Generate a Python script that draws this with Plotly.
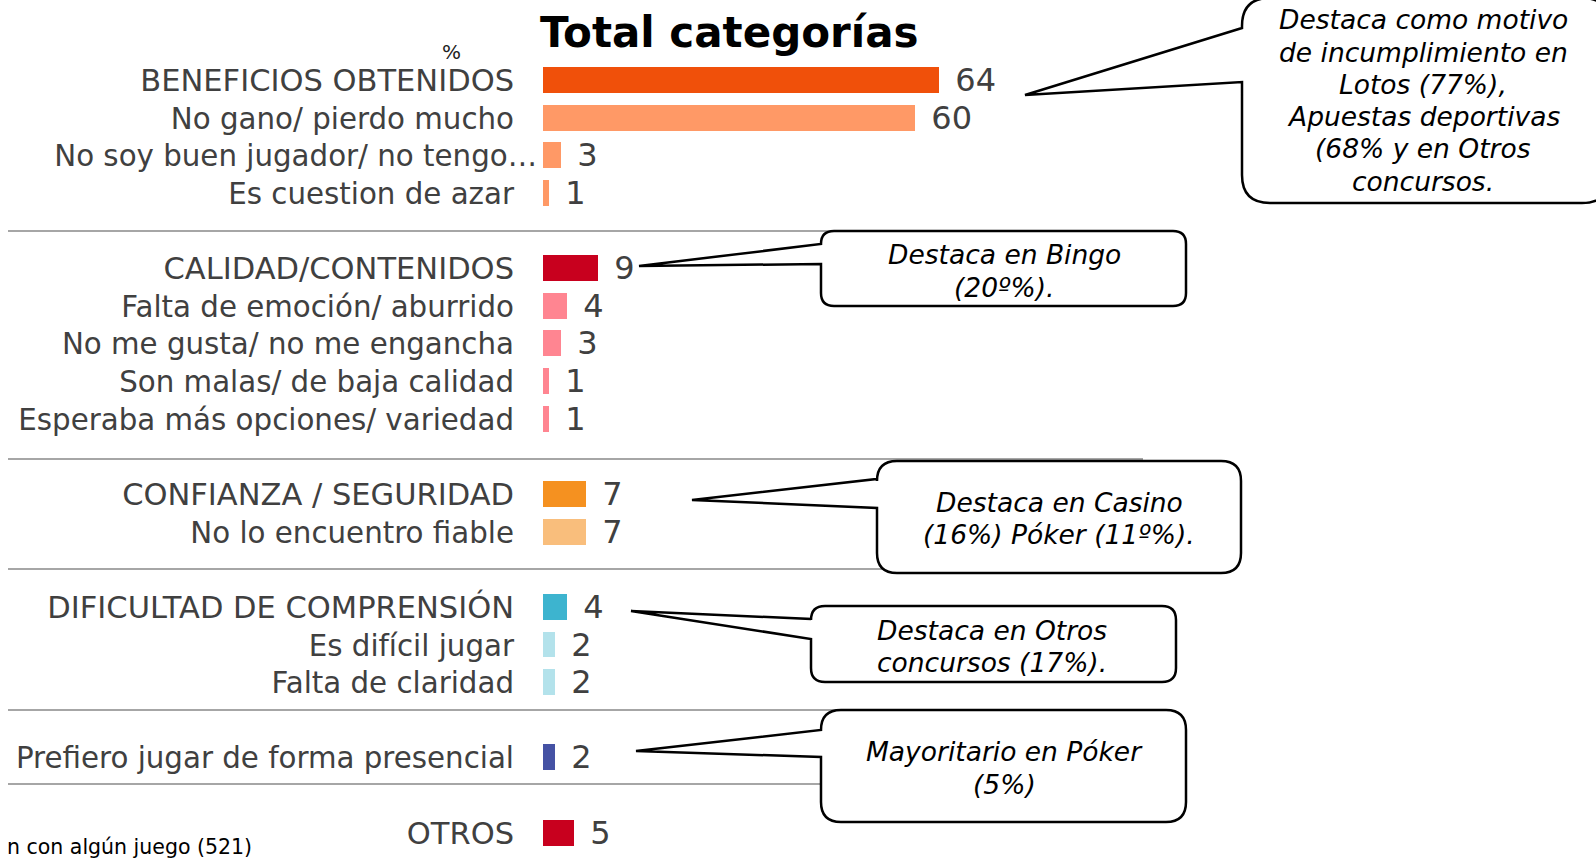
import plotly.graph_objects as go

# data
labels = [
    "BENEFICIOS OBTENIDOS", "No gano/ pierdo mucho", "No soy buen jugador/ no tengo…", "Es cuestion de azar",
    "CALIDAD/CONTENIDOS", "Falta de emoción/ aburrido", "No me gusta/ no me engancha",
    "Son malas/ de baja calidad", "Esperaba más opciones/ variedad",
    "CONFIANZA / SEGURIDAD", "No lo encuentro fiable",
    "DIFICULTAD DE COMPRENSIÓN", "Es difícil jugar", "Falta de claridad",
    "Prefiero jugar de forma presencial",
    "OTROS",
]
values = [64, 60, 3, 1, 9, 4, 3, 1, 1, 7, 7, 4, 2, 2, 2, 5]
group = [0, 0, 0, 0, 1, 1, 1, 1, 1, 2, 2, 3, 3, 3, 4, 5]
colors = [
    "#F0500A", "#FF9966", "#FF9966", "#FF9966",
    "#C8001E", "#FF8591", "#FF8591", "#FF8591", "#FF8591",
    "#F59120", "#F9BE7C",
    "#3DB4CF", "#B3E2EB", "#B3E2EB",
    "#4552A4",
    "#C8001E",
]

callout_texts = [
    ["Destaca como motivo", "de incumplimiento en", "Lotos (77%),", "Apuestas deportivas",
     "(68% y en Otros", "concursos."],
    ["Destaca en Bingo", "(20º%)."],
    ["Destaca en Casino", "(16%) Póker (11º%)."],
    ["Destaca en Otros", "concursos (17%)."],
    ["Mayoritario en Póker", "(5%)"],
]

W, H = 1596, 859
FONT = "DejaVu Sans"
GREY_TXT = "#404040"

# one empty row between groups
slots = [i + g for i, g in enumerate(group)]

# pixel mapping: bars start at x=542.5 px, 6.2 px per %, rows every 37.64 px from y=79.9
X0, XS = 542.5, 6.2
Y0, YS = 79.9, 37.64
xrange_ = [-X0 / XS, (W - X0) / XS]
yrange_ = [(H - Y0) / YS, -Y0 / YS]


def px(x):
    return x / W


def py(y):
    return 1 - y / H


# labels right-aligned at 514 px; truncated ones spill a little further, like Excel does
label_x = [((537 if lab.endswith("…") else 514) - X0) / XS for lab in labels]
label_y = [s + 0.1 for s in slots]
label_size = [30.5 if lab.isupper() else 29.3 for lab in labels]

fig = go.Figure()
fig.add_trace(go.Bar(
    x=values, y=slots, orientation="h", width=0.69,
    marker=dict(color=colors, line=dict(width=0)),
    text=["\u00a0\u200a" + str(v) for v in values], textposition="outside",
    constraintext="none", cliponaxis=False,
    textfont=dict(family=FONT, size=32, color=GREY_TXT),
    hoverinfo="skip",
))
fig.add_trace(go.Scatter(
    x=label_x, y=label_y, mode="text",
    text=labels, textposition="middle left",
    textfont=dict(family=FONT, size=label_size, color=GREY_TXT),
    hoverinfo="skip",
))

shapes = []
# separators between groups
for sy in [231, 459, 569, 710, 784]:
    shapes.append(dict(type="line", xref="paper", yref="paper",
                       x0=px(8), x1=px(1143), y0=py(sy), y1=py(sy),
                       line=dict(color="#A6A6A6", width=2)))

# speech bubbles: box (x0, y0, x1, y1), corner radius, tail (upper y, lower y, tip x, tip y)
bubbles = [
    dict(box=(1242, -2, 1610, 203), r=28, tail=(28, 82, 1025, 95), cx=1423, ly=20, step=32.2),
    dict(box=(821, 231, 1186, 306), r=13, tail=(244, 264, 639, 266), cx=1004, ly=254, step=33),
    dict(box=(877, 461, 1241, 573), r=20, tail=(479, 508, 692, 500), cx=1059, ly=503, step=31),
    dict(box=(811, 606, 1176, 682), r=14, tail=(619, 639, 631, 611), cx=992, ly=630, step=32),
    dict(box=(821, 710, 1186, 822), r=20, tail=(730, 757, 636, 751), cx=1004, ly=751, step=33),
]


def pt(x, y):
    return f"{px(x):.5f},{py(y):.5f}"


for b in bubbles:
    x0, y0, x1, y1 = b["box"]
    r = b["r"]
    tu, tl, tx, ty = b["tail"]
    path = (
        f"M {pt(x0 + r, y0)} L {pt(x1 - r, y0)} Q {pt(x1, y0)} {pt(x1, y0 + r)} "
        f"L {pt(x1, y1 - r)} Q {pt(x1, y1)} {pt(x1 - r, y1)} "
        f"L {pt(x0 + r, y1)} Q {pt(x0, y1)} {pt(x0, y1 - r)} "
        f"L {pt(x0, tl)} L {pt(tx, ty)} L {pt(x0, tu)} "
        f"L {pt(x0, y0 + r)} Q {pt(x0, y0)} {pt(x0 + r, y0)} Z"
    )
    shapes.append(dict(type="path", xref="paper", yref="paper", path=path,
                       fillcolor="white", line=dict(color="black", width=2.5), layer="above"))

annotations = [
    dict(text="<b>Total categorías</b>", x=px(729), y=py(32), xref="paper", yref="paper",
         xanchor="center", yanchor="middle", showarrow=False,
         font=dict(family=FONT, size=42, color="black")),
    dict(text="%", x=px(451), y=py(52), xref="paper", yref="paper",
         xanchor="center", yanchor="middle", showarrow=False,
         font=dict(family=FONT, size=20, color="#222222")),
    dict(text="n con algún juego (521)", x=px(254), y=py(847), xref="paper", yref="paper",
         xanchor="right", yanchor="middle", showarrow=False,
         font=dict(family=FONT, size=20.5, color="black")),
]
for b, lines in zip(bubbles, callout_texts):
    for k, line in enumerate(lines):
        annotations.append(dict(
            text=line, x=px(b["cx"]), y=py(b["ly"] + k * b["step"]), xref="paper", yref="paper",
            xanchor="center", yanchor="middle", showarrow=False,
            font=dict(family=FONT, size=26.5, color="black", style="italic"),
        ))

fig.update_layout(
    width=W, height=H,
    margin=dict(l=0, r=0, t=0, b=0, pad=0),
    paper_bgcolor="white", plot_bgcolor="white",
    showlegend=False, hovermode=False,
    xaxis=dict(range=xrange_, visible=False, fixedrange=True),
    yaxis=dict(range=yrange_, visible=False, fixedrange=True),
    shapes=shapes, annotations=annotations,
    bargap=0,
)

fig.write_html("out.html", config={"displayModeBar": False},
               post_script="document.body.style.margin='0';")
